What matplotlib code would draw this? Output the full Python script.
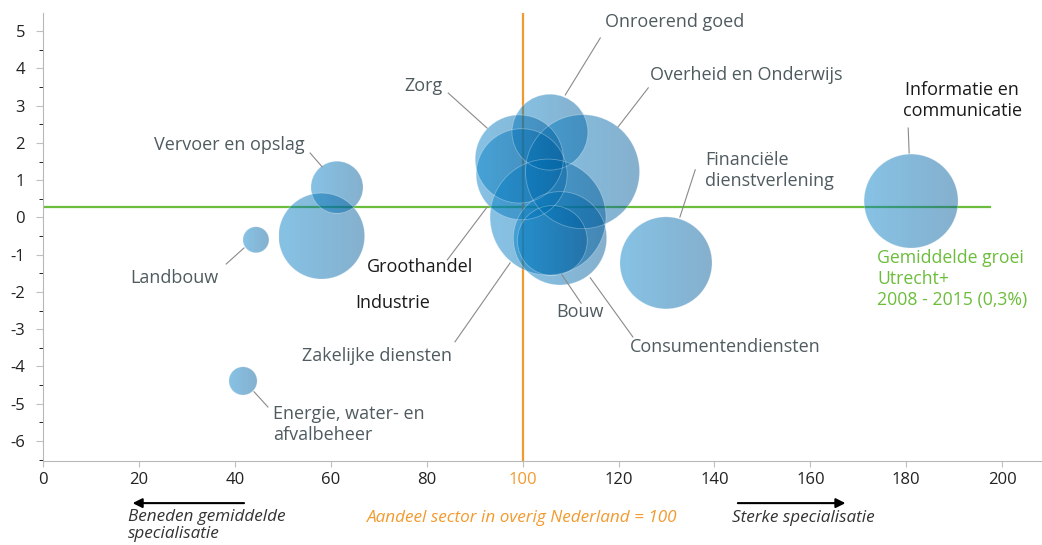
import numpy as np
import matplotlib.pyplot as plt
from matplotlib.patches import Ellipse
from matplotlib.colors import LinearSegmentedColormap

plt.rcParams['font.family'] = ['Open Sans', 'DejaVu Sans']
plt.rcParams['axes.unicode_minus'] = False

# sectoren: specialisatie (overig NL = 100), groei (%), omvang (relatief)
sectoren = ['Informatie en communicatie', 'Financiële dienstverlening', 'Vervoer en opslag',
            'Industrie', 'Landbouw', 'Energie, water- en afvalbeheer', 'Onroerend goed',
            'Overheid en Onderwijs', 'Zorg', 'Groothandel', 'Zakelijke diensten',
            'Consumentendiensten', 'Bouw']
specialisatie = [181.0, 129.9, 61.3, 58.1, 44.4, 41.7, 105.7, 112.5, 99.3, 99.8, 105.3, 107.8, 106.2]
groei = [0.44, -1.22, 0.81, -0.50, -0.60, -4.39, 2.29, 1.23, 1.57, 1.16, 0.01, -0.56, -0.62]
omvang = [221, 212, 68, 185, 17, 20, 144, 325, 194, 207, 336, 218, 122]

gem_groei = 0.27
xticks = list(range(0, 201, 20))
yticks = list(range(-6, 6))

grijs = '#4f5b5f'
oranje = '#f39a2e'
groen = '#6cbd3c'

fig = plt.figure(figsize=(10.42, 5.45), dpi=100)
ax = fig.add_axes([43 / 1042, 1 - 461 / 545, 1 - 43 / 1042, 448 / 545])
ax.set_xlim(0, 208.3)
ax.set_ylim(-6.54, 5.49)

# pixels per eenheid om cirkels rond te houden
p0 = ax.transData.transform((0, 0))
p1 = ax.transData.transform((1, 1))
ppx, ppy = p1 - p0

cmap = LinearSegmentedColormap.from_list('bel', ['#0380c8', '#005a98'])
grad = np.linspace(0, 1, 256).reshape(1, -1)
for x, y, s in zip(specialisatie, groei, omvang):
    r = np.sqrt(s * 10)
    rx, ry = r / ppx, r / ppy
    ell = Ellipse((x, y), 2 * rx, 2 * ry, facecolor='none', edgecolor='white',
                  lw=0.6, alpha=0.3, zorder=3)
    ax.add_patch(ell)
    im = ax.imshow(grad, extent=[x - rx, x + rx, y - ry, y + ry], cmap=cmap,
                   alpha=0.48, aspect='auto', interpolation='bilinear', zorder=2)
    im.set_clip_path(ell)

ax.set_xlim(0, 208.3)
ax.set_ylim(-6.54, 5.49)

ax.axhline(gem_groei, xmin=0, xmax=197.5 / 208.3, color=groen, lw=1.6, zorder=1)
ax.axvline(100, color=oranje, lw=1.6, zorder=1)

# labels met verbindingslijnen
labels = [
    ('Onroerend goed', 117.2, 5.25, 'left', grijs, (108.9, 3.29, 116.2, 4.82)),
    ('Overheid en Onderwijs', 126.6, 3.83, 'left', grijs, (119.9, 2.43, 126.2, 3.48)),
    ('Zorg', 83.4, 3.53, 'right', grijs, (84.5, 3.34, 92.6, 2.40)),
    ('Vervoer en opslag', 54.6, 1.95, 'right', grijs, (55.7, 1.73, 58.2, 1.36)),
    ('Informatie en\ncommunicatie', 191.7, 3.15, 'center', '#1a1a1a', (180.4, 2.40, 180.6, 1.73)),
    ('Financiële\ndienstverlening', 138.1, 1.25, 'left', grijs, (136.0, 1.28, 132.8, 0.01)),
    ('Landbouw', 18.1, -1.62, 'left', grijs, (38.2, -1.25, 41.9, -0.82)),
    ('Groothandel', 67.6, -1.33, 'left', '#1a1a1a', (84.3, -1.14, 92.6, 0.28)),
    ('Industrie', 65.1, -2.30, 'left', '#1a1a1a', None),
    ('Zakelijke diensten', 54.0, -3.72, 'left', grijs, (85.9, -3.34, 97.4, -1.22)),
    ('Bouw', 107.0, -2.54, 'left', grijs, (108.2, -1.54, 112.2, -2.30)),
    ('Consumentendiensten', 122.4, -3.48, 'left', grijs, (114.1, -1.62, 123.0, -3.21)),
    ('Energie, water- en\nafvalbeheer', 48.0, -5.57, 'left', grijs, (44.0, -4.68, 46.9, -5.09)),
]
for txt, tx, ty, ha, kleur, lijn in labels:
    ax.text(tx, ty, txt, ha=ha, va='center', fontsize=13, color=kleur,
            linespacing=1.2, zorder=5)
    if lijn:
        ax.plot([lijn[0], lijn[2]], [lijn[1], lijn[3]], color='#8a8a8a', lw=0.8, zorder=5)

ax.text(173.9, -1.65, 'Gemiddelde groei\nUtrecht+\n2008 - 2015 (0,3%)', ha='left',
        va='center', fontsize=12.7, color=groen, linespacing=1.2, zorder=5)

ax.set_xticks(xticks)
ax.set_yticks(yticks)
ax.set_yticks(np.arange(-6.5, 5.5, 0.5), minor=True)
ax.tick_params(axis='both', colors='#c0c0c0', labelcolor='#222222', labelsize=12)
ax.tick_params(axis='x', length=4, pad=4)
ax.tick_params(axis='y', which='major', length=5, pad=8)
ax.tick_params(axis='y', which='minor', length=3)
ax.get_xticklabels()[5].set_color(oranje)
for sp in ['top', 'right']:
    ax.spines[sp].set_visible(False)
ax.spines['left'].set_color('#b8b8b8')
ax.spines['bottom'].set_color('#b8b8b8')

# toelichting onder de as
tr = ax.get_xaxis_transform()
ax.annotate('', xy=(18.1, -0.094), xytext=(42.5, -0.094), xycoords=tr, textcoords=tr,
            arrowprops=dict(arrowstyle='-|>', color='black', lw=1.5, mutation_scale=14),
            annotation_clip=False)
ax.annotate('', xy=(167.9, -0.094), xytext=(144.3, -0.094), xycoords=tr, textcoords=tr,
            arrowprops=dict(arrowstyle='-|>', color='black', lw=1.5, mutation_scale=14),
            annotation_clip=False)
ax.text(17.8, -0.107, 'Beneden gemiddelde\nspecialisatie', transform=tr, ha='left', va='top',
        fontsize=12.3, style='italic', color='#333333', linespacing=1.05)
ax.text(100, -0.127, 'Aandeel sector in overig Nederland = 100', transform=tr, ha='center',
        va='center', fontsize=12.3, style='italic', color=oranje)
ax.text(143.7, -0.127, 'Sterke specialisatie', transform=tr, ha='left', va='center',
        fontsize=12.3, style='italic', color='#333333')

plt.savefig('out.png', dpi=100)
